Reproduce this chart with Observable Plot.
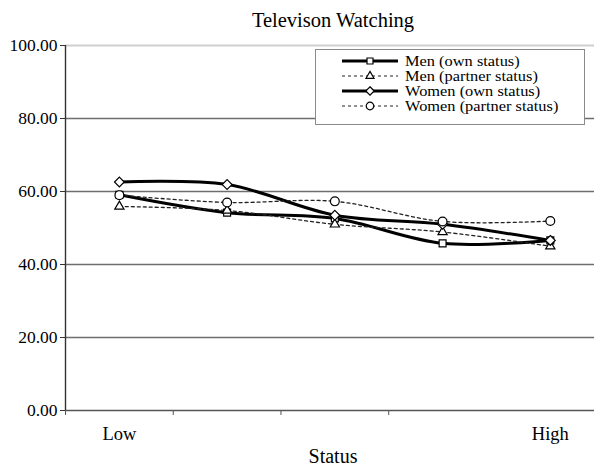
<!DOCTYPE html>
<html><head><meta charset="utf-8">
<script src="https://cdn.jsdelivr.net/npm/d3@7"></script>
<script src="https://cdn.jsdelivr.net/npm/@observablehq/plot@0.6"></script>
<style>
body{margin:0;background:#fff;}
#wrap{position:relative;width:594px;height:466px;overflow:hidden;}
#legend{position:absolute;left:315px;top:49px;}
</style></head><body><div id="wrap"></div>
<script>
const title = "Televison Watching";
const xTitle = "Status";
const categories = [0, 1, 2, 3, 4];
const categoryLabels = ["Low", "", "", "", "High"];
const yTicks = [0, 20, 40, 60, 80, 100];
const seriesNames = ["Men (own status)", "Men (partner status)", "Women (own status)", "Women (partner status)"];
const menOwn = [59.1, 54.2, 52.6, 45.8, 46.6];
const menPartner = [55.9, 54.8, 51.0, 48.9, 45.0];
const womenOwn = [62.6, 61.9, 53.5, 51.0, 46.6];
const womenPartner = [59.0, 57.0, 57.3, 51.8, 51.9];
const seriesValues = [menOwn, menPartner, womenOwn, womenPartner];
const seriesSymbols = ["square2", "triangle2", "diamond2", "circle"];
const seriesSolid = [true, false, true, false];

const data = [];
seriesNames.forEach((s, k) => seriesValues[k].forEach((v, i) => data.push({series: s, i: categories[i], value: v})));

const font = "'Liberation Serif', 'Times New Roman', serif";
const lineMarks = seriesNames.map((s, k) => Plot.line(data.filter(d => d.series === s), {
  x: "i", y: "value", curve: "catmull-rom",
  stroke: seriesSolid[k] ? "#000" : "#222",
  strokeWidth: seriesSolid[k] ? 3 : 1.3,
  strokeDasharray: seriesSolid[k] ? null : "3,3"
}));
const dotMarks = seriesNames.map((s, k) => Plot.dot(data.filter(d => d.series === s), {
  x: "i", y: "value", symbol: () => seriesSymbols[k], r: 4.4,
  fill: "white", stroke: "#000", strokeWidth: 1.2
}));

const chart = Plot.plot({
  width: 594, height: 466,
  marginTop: 45, marginBottom: 56, marginLeft: 65, marginRight: 0,
  style: {fontFamily: font, fontSize: "17px", background: "white", color: "#000"},
  x: {domain: [-0.5, 4.41]},
  y: {domain: [0, 100]},
  symbol: {type: "identity"},
  marks: [
    Plot.ruleY(yTicks.filter(v => v > 0 && v < 100), {stroke: "#6e6e6e", strokeWidth: 1.3}),
    Plot.ruleY([100], {stroke: "#cfcfcf", strokeWidth: 2}),
    Plot.ruleY([0], {stroke: "#555", strokeWidth: 1.4}),
    Plot.ruleX([-0.5], {stroke: "#333", strokeWidth: 1.4}),
    Plot.axisY({ticks: yTicks, tickFormat: d => d.toFixed(2), tickSize: 5, tickPadding: 3, fontSize: 17.5, stroke: "#333", label: null}),
    Plot.axisX({ticks: categories.slice(0, 4).map(c => c - 0.5), tickFormat: () => "", tickSize: 5, stroke: "#555", label: null}),
    Plot.text(categories, {x: d => d, y: () => 0, text: (d, i) => categoryLabels[i], dy: 24, fontSize: 18.5}),
    Plot.text([xTitle], {frameAnchor: "bottom", dy: 52, dx: 3, fontSize: 20}),
    Plot.text([title], {frameAnchor: "top", dy: -33, dx: 3, fontSize: 20.5}),
    ...lineMarks,
    ...dotMarks
  ]
});
const wrap = document.getElementById("wrap");
wrap.appendChild(chart);

// legend
const lw = 270, lh = 76;
const svg = d3.select(wrap).append("svg").attr("id", "legend").attr("width", lw).attr("height", lh);
svg.append("rect").attr("x", 0.5).attr("y", 0.5).attr("width", lw - 1).attr("height", lh - 1)
  .attr("fill", "white").attr("stroke", "#8a8a8a").attr("stroke-width", 1);
const symbolMap = {square2: d3.symbolSquare2, triangle2: d3.symbolTriangle2, diamond2: d3.symbolDiamond2, circle: d3.symbolCircle};
seriesNames.forEach((s, k) => {
  const g = svg.append("g").attr("transform", `translate(0,${12 + k * 15})`);
  g.append("line").attr("x1", 27).attr("x2", 83).attr("y1", 0).attr("y2", 0)
    .attr("stroke", seriesSolid[k] ? "#000" : "#222")
    .attr("stroke-width", seriesSolid[k] ? 3 : 1.2)
    .attr("stroke-dasharray", seriesSolid[k] ? null : "3,3");
  g.append("path").attr("transform", "translate(55,0)")
    .attr("d", d3.symbol(symbolMap[seriesSymbols[k]], Math.PI * 3.8 * 3.8)())
    .attr("fill", "white").attr("stroke", "#000").attr("stroke-width", 1.2);
  g.append("text").attr("transform", "translate(90,0) scale(1.13,1)").attr("dy", "0.32em")
    .attr("font-family", font).attr("font-size", 14.5).text(s);
});
</script>
</body></html>
